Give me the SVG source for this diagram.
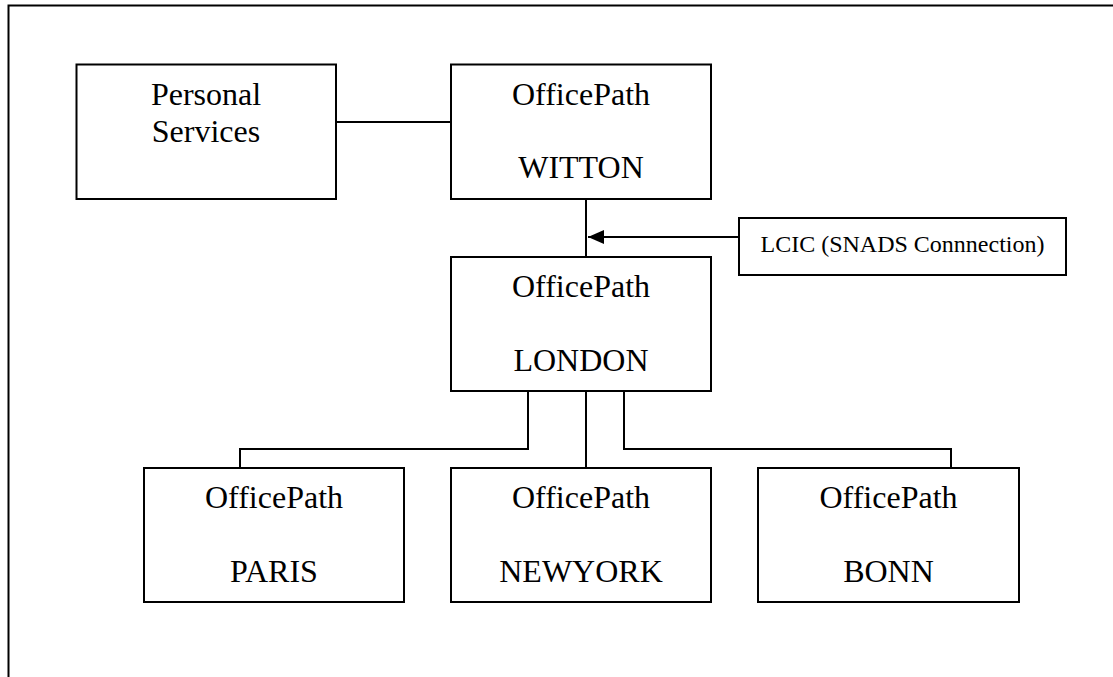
<svg xmlns="http://www.w3.org/2000/svg" width="1113" height="677" viewBox="0 0 1113 677">
<style>
.box{fill:#fff;stroke:#000;stroke-width:2}
.ln{fill:none;stroke:#000;stroke-width:2}
.t{font-family:"Liberation Serif","Times New Roman",serif;font-size:32px;fill:#000;text-anchor:middle}
.s{font-family:"Liberation Serif","Times New Roman",serif;font-size:24px;fill:#000;text-anchor:middle}
</style>
<defs>
<marker id="ah" markerWidth="16" markerHeight="14" refX="16" refY="7" orient="auto" markerUnits="userSpaceOnUse">
<path d="M0,0 L16,7 L0,14 Z" fill="#000"/>
</marker>
</defs>
<rect x="0" y="0" width="1113" height="677" fill="#fff"/>
<path class="ln" d="M8.5,677 V5.5 H1113"/>
<g id="connectors">
<path class="ln" d="M336,122 H451"/>
<path class="ln" d="M586,199 V257"/>
<path class="ln" d="M739,237 H588" marker-end="url(#ah)"/>
<path class="ln" d="M528,391 V449 H240 V468"/>
<path class="ln" d="M586,391 V468"/>
<path class="ln" d="M624,391 V449 H951 V468"/>
</g>
<g id="personal">
<rect class="box" x="76.5" y="64.5" width="259.5" height="134.5"/>
<text class="t" x="206" y="105">Personal</text>
<text class="t" x="206" y="142">Services</text>
</g>
<g id="witton">
<rect class="box" x="451" y="64.5" width="260" height="134.5"/>
<text class="t" x="581" y="105">OfficePath</text>
<text class="t" x="581" y="178">WITTON</text>
</g>
<g id="lcic">
<rect class="box" x="739" y="218" width="327" height="57"/>
<text class="s" x="902.5" y="252">LCIC (SNADS Connnection)</text>
</g>
<g id="london">
<rect class="box" x="451" y="257" width="260" height="134"/>
<text class="t" x="581" y="297">OfficePath</text>
<text class="t" x="581" y="371">LONDON</text>
</g>
<g id="paris">
<rect class="box" x="144" y="468" width="260" height="134"/>
<text class="t" x="274" y="508">OfficePath</text>
<text class="t" x="274" y="582">PARIS</text>
</g>
<g id="newyork">
<rect class="box" x="451" y="468" width="260" height="134"/>
<text class="t" x="581" y="508">OfficePath</text>
<text class="t" x="581" y="582">NEWYORK</text>
</g>
<g id="bonn">
<rect class="box" x="758" y="468" width="261" height="134"/>
<text class="t" x="888.5" y="508">OfficePath</text>
<text class="t" x="888.5" y="582">BONN</text>
</g>
</svg>
